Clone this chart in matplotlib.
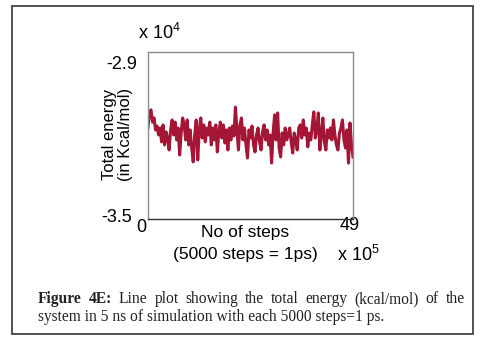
import numpy as np
import matplotlib.pyplot as plt
from matplotlib.patches import Rectangle
from matplotlib.transforms import ScaledTranslation

plt.rcParams['font.family'] = ['Liberation Sans', 'DejaVu Sans']
plt.rcParams['mathtext.default'] = 'regular'

# total energy (x 10^4 kcal/mol)
energy = [-3.171, -3.115, -3.108, -3.152, -3.137, -3.180, -3.166, -3.198,
          -3.173, -3.223, -3.162, -3.234, -3.187, -3.209, -3.252, -3.180,
          -3.144, -3.198, -3.152, -3.216, -3.173, -3.270, -3.191, -3.137,
          -3.162, -3.216, -3.144, -3.234, -3.180, -3.245, -3.295, -3.198,
          -3.144, -3.288, -3.180, -3.137, -3.209, -3.162, -3.223, -3.173,
          -3.198, -3.152, -3.234, -3.173, -3.216, -3.162, -3.259, -3.187,
          -3.152, -3.209, -3.162, -3.227, -3.180, -3.252, -3.173, -3.216,
          -3.166, -3.202, -3.098, -3.180, -3.252, -3.162, -3.137, -3.216,
          -3.173, -3.234, -3.281, -3.180, -3.209, -3.166, -3.234, -3.259,
          -3.198, -3.173, -3.223, -3.252, -3.187, -3.162, -3.216, -3.180,
          -3.234, -3.198, -3.299, -3.191, -3.126, -3.216, -3.119, -3.245,
          -3.277, -3.191, -3.234, -3.173, -3.216, -3.198, -3.173, -3.223,
          -3.263, -3.191, -3.216, -3.252, -3.173, -3.162, -3.209, -3.144,
          -3.198, -3.173, -3.241, -3.191, -3.216, -3.162, -3.115, -3.209,
          -3.180, -3.119, -3.252, -3.198, -3.137, -3.223, -3.252, -3.180,
          -3.209, -3.173, -3.216, -3.144, -3.198, -3.234, -3.252, -3.191,
          -3.173, -3.144, -3.216, -3.245, -3.180, -3.299, -3.155, -3.234, -3.277]
steps = np.linspace(0, 49, len(energy))   # x 10^5

xticks = [0, 49]
yticks = [-3.5, -2.9]

W, H = 480, 339
fig = plt.figure(figsize=(4.8, 3.39), dpi=100)
ax = fig.add_axes([148/W, 1-219/H, 205/W, 167/H])

ax.plot(steps, energy, color='#A51535', lw=2.2)
ax.set_xlim(0, 49)
ax.set_ylim(-3.5, -2.9)

ax.set_xticks(xticks)
ax.set_xticklabels([str(v) for v in xticks])
ax.set_yticks(yticks)
ax.set_yticklabels([str(v) for v in yticks])
ax.tick_params(axis='y', length=0, labelsize=13, pad=7.9)
ax.tick_params(axis='x', length=0, labelsize=13, pad=0)

def shift(lbl, dx, dy):
    lbl.set_transform(lbl.get_transform() + ScaledTranslation(dx/100, dy/100, fig.dpi_scale_trans))

yl = ax.get_yticklabels()
shift(yl[0], -5, 4)
shift(yl[1], 0, -10)
xl = ax.get_xticklabels()
shift(xl[0], -7, 0)
shift(xl[1], -3, 2)

for s in ['left', 'top', 'right']:
    ax.spines[s].set_color('#8c8c8c')
ax.spines['bottom'].set_color('#333333')
for s in ax.spines.values():
    s.set_linewidth(1.0)

ax.set_xlabel('No of steps\n(5000 steps = 1ps)', fontsize=12.5, linespacing=1.6)
ax.xaxis.set_label_coords((245-148)/205, (219-225)/167)
ax.set_ylabel('Total energy\n(in Kcal/mol)', fontsize=12, linespacing=1.1)
ax.yaxis.set_label_coords((133-148)/205, (219-134)/167)

fig.text(138/W, 1-39/H, 'x 10$^{4}$', fontsize=13, va='baseline')
fig.text(337/W, 1-261/H, 'x 10$^{5}$', fontsize=13, va='baseline')

# outer frame
fig.patches.append(Rectangle((12/W, 5/H), 461/W, 328/H, transform=fig.transFigure,
                             fill=False, edgecolor='#333333', lw=1.2))

# caption, first line justified between x=38 and x=465
cap = dict(family='Liberation Serif', fontsize=11.2, va='center', color='#222222')
words = 'Figure 4E: Line plot showing the total energy (kcal/mol) of the'.split()
fig.canvas.draw()
r = fig.canvas.get_renderer()
texts = []
for i, w in enumerate(words):
    t = fig.text(0, 1-299/H, w, fontweight='bold' if i < 2 else 'normal', **cap)
    texts.append(t)
widths = [t.get_window_extent(r).width for t in texts]
gap = (465 - 38 - sum(widths)) / (len(words) - 1)
x = 38
for t, w in zip(texts, widths):
    t.set_x(x/W)
    x += w + gap
fig.text(38/W, 1-317/H, 'system in 5 ns of simulation with each 5000 steps=1 ps.', **cap)

fig.savefig('out.png', dpi=100)
